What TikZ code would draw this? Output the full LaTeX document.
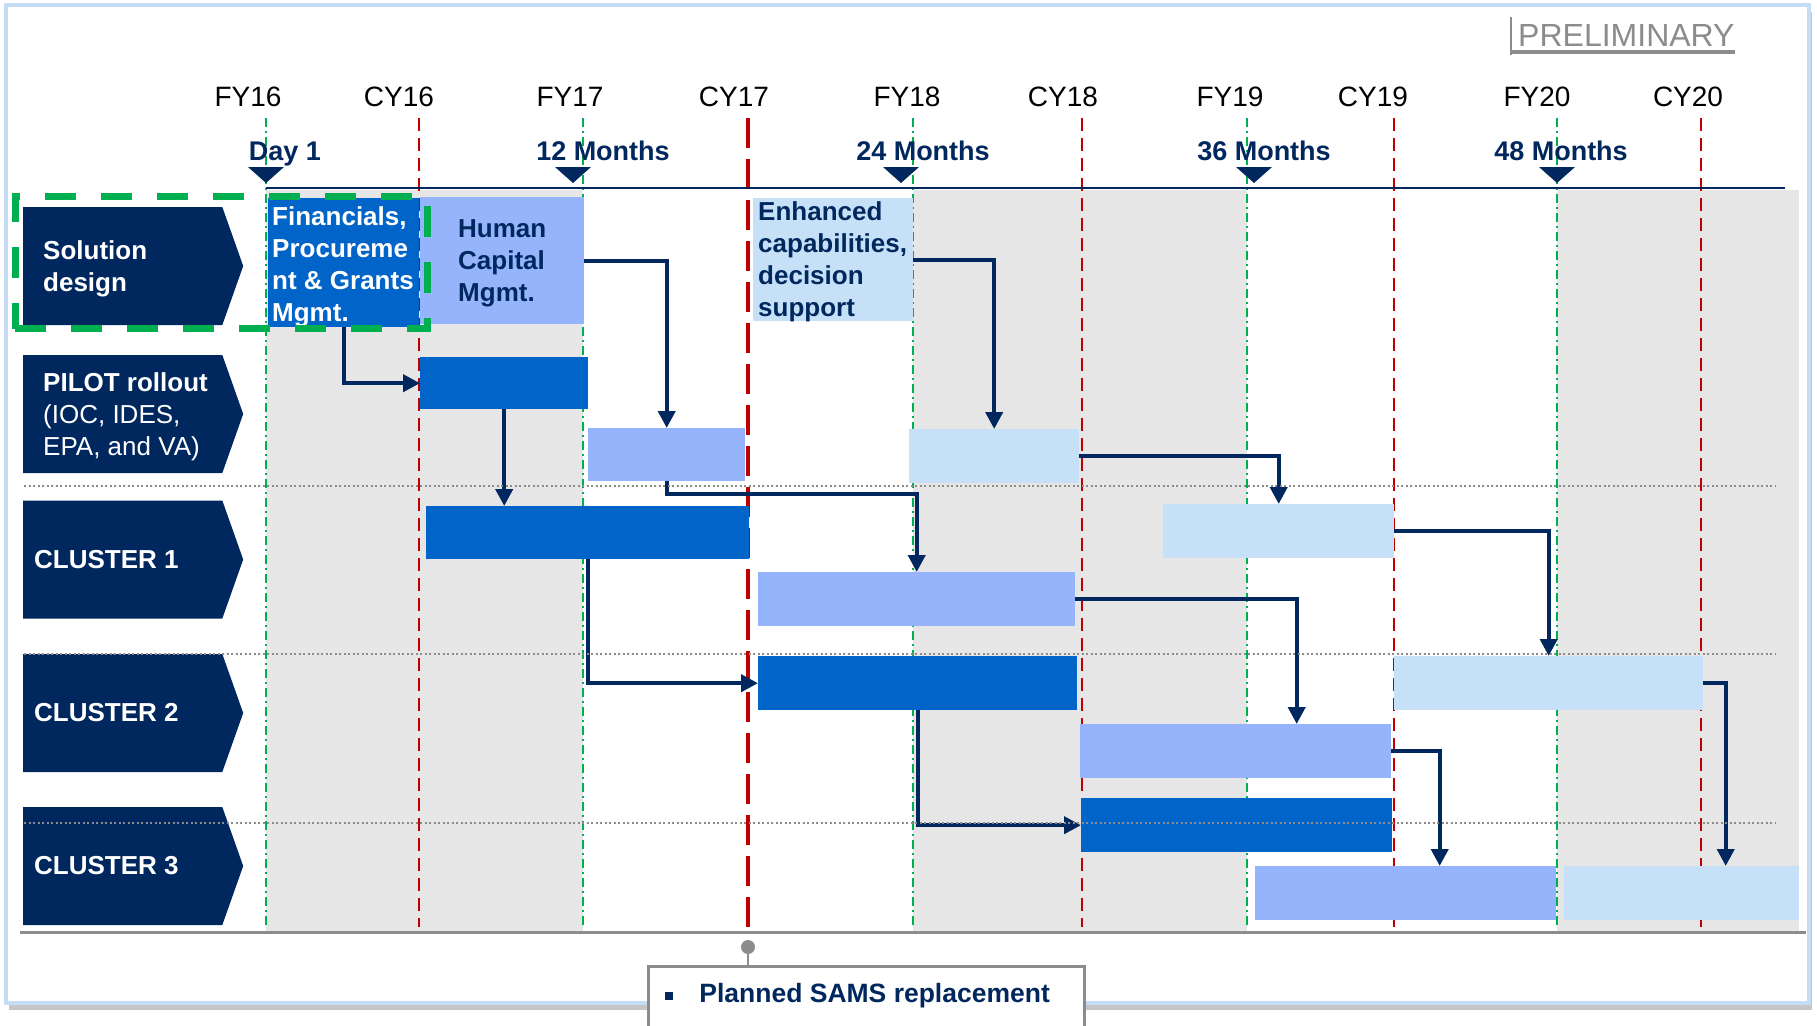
\documentclass[tikz,border=0pt]{standalone}
\usepackage{fontspec}
\setmainfont{Liberation Sans}
\usetikzlibrary{positioning, fit, arrows.meta, shapes.symbols, shadows}

\definecolor{navy}{HTML}{00285E}
\definecolor{finblue}{HTML}{0064C8}
\definecolor{hcmblue}{HTML}{96B4FC}
\definecolor{enhblue}{HTML}{C6E0F7}
\definecolor{yeargray}{HTML}{E6E6E6}
\definecolor{fygreen}{HTML}{00B050}
\definecolor{cyred}{HTML}{C00000}
\definecolor{frameblue}{HTML}{C5DDF4}
\definecolor{rulegray}{HTML}{8C8C8C}

\begin{document}
\begin{tikzpicture}[x=1pt, y=-1pt,
    plaintxt/.style={font=\fontsize{26}{32}\selectfont, inner sep=0pt},
    boldtxt/.style={font=\fontsize{26}{32}\selectfont\bfseries, inner sep=0pt},
    year/.style={font=\fontsize{28}{32}\selectfont, anchor=base, inner sep=0pt},
    mile/.style={font=\fontsize{27}{32}\selectfont\bfseries, text=navy, anchor=base, inner sep=0pt},
    chev/.style={shape=signal, signal to=east, signal pointer angle=141, fill=navy,
      minimum width=220, minimum height=118, inner sep=0pt, anchor=west},
    bar/.style={anchor=north west, inner sep=0pt, minimum height=54},
    link/.style={navy, line width=4pt, -{Triangle[length=17pt, width=17pt]}},
    fyline/.style={fygreen, line width=2pt, dash pattern=on 9pt off 4pt on 2pt off 4pt},
    cyline/.style={cyred, line width=2.5pt, dash pattern=on 13pt off 7pt},
    cymain/.style={cyred, line width=4pt, dash pattern=on 30pt off 11pt},
    rowsep/.style={rulegray, line width=2pt, dash pattern=on 2pt off 2.5pt}]
  \useasboundingbox (0,0) rectangle (1817,1025);

  % page frame
  \draw[frameblue, line width=3.5pt, fill=white,
    drop shadow={shadow xshift=3pt, shadow yshift=-7pt, opacity=0.45}]
    (6,5) rectangle (1809,1003);

  % stamp in the corner
  \node[font=\fontsize{32}{36}\selectfont, text=rulegray, anchor=base west, inner sep=0pt]
    (prelim) at (1518,47) {PRELIMINARY};
  \draw[rulegray, line width=4pt] ([xshift=-7pt, yshift=-5pt]prelim.base west) -- ([yshift=-5pt]prelim.base east);
  \draw[rulegray, line width=2pt] ([xshift=-7pt, yshift=-8pt]prelim.base west) -- ([xshift=-7pt, yshift=30pt]prelim.base west);

  % shaded fiscal years
  \foreach \a/\b in {266/583, 913/1247, 1557/1799}
    \fill[yeargray] (\a,190) rectangle (\b,933);

  % FY and CY boundaries
  \foreach \x/\lx/\lab/\sty in {266/248/FY16/fyline, 419/399/CY16/cyline, 583/570/FY17/fyline,
      748/734/CY17/cymain, 913/907/FY18/fyline, 1082/1063/CY18/cyline, 1247/1230/FY19/fyline,
      1394/1373/CY19/cyline, 1557/1537/FY20/fyline, 1701/1688/CY20/cyline} {
    \draw[\sty] (\x,118) -- (\x,927);
    \node[year] (\lab) at (\lx,106) {\lab};
  }

  % milestones
  \draw[navy, line width=2.5pt] (266,188) -- (1785,188);
  \foreach \tx/\lx/\m/\lab in {266/285/0/Day 1, 573/603/12/12 Months, 901/923/24/24 Months,
      1254/1264/36/36 Months, 1557/1561/48/48 Months} {
    \fill[navy] (\tx-18,167) -- (\tx+18,167) -- (\tx,183) -- cycle;
    \node[mile] (m\m) at (\lx,160) {\lab};
  }

  % work streams on the left
  \node[chev] (solution) at (23,266) {};
  \node[chev] (pilot) at (23,414) {};
  \node[chev] (cluster1) at (23,559.5) {};
  \node[chev] (cluster2) at (23,713) {};
  \node[chev] (cluster3) at (23,866) {};
  \node[boldtxt, text=white, align=left, anchor=west] (solutiontext) at (43,269) {Solution\\design};
  \node[plaintxt, text=white, align=left, anchor=west] (pilottext) at (43,417) {{\bfseries PILOT rollout}\\(IOC, IDES,\\EPA, and VA)};
  \node[boldtxt, text=white, anchor=west] (cluster1text) at (34,560) {CLUSTER 1};
  \node[boldtxt, text=white, anchor=west] (cluster2text) at (34,713) {CLUSTER 2};
  \node[boldtxt, text=white, anchor=west] (cluster3text) at (34,866) {CLUSTER 3};

  % releases: fin = financials, hcm = human capital, enh = enhanced capabilities
  \node[bar, fill=finblue, minimum width=151, minimum height=129] (fin0) at (268,198) {};
  \node[bar, fill=hcmblue, minimum width=164, minimum height=127] (hcm0) at (420,197) {};
  \node[bar, fill=enhblue, minimum width=160, minimum height=123] (enh0) at (753,198) {};
  \node[bar, fill=finblue, minimum width=168, minimum height=52] (fin1) at (420,357) {};
  \node[bar, fill=hcmblue, minimum width=157, minimum height=53] (hcm1) at (588,428) {};
  \node[bar, fill=enhblue, minimum width=170] (enh1) at (909,429) {};
  \node[bar, fill=finblue, minimum width=323, minimum height=53] (fin2) at (426,506) {};
  \node[bar, fill=hcmblue, minimum width=317] (hcm2) at (758,572) {};
  \node[bar, fill=enhblue, minimum width=231] (enh2) at (1163,504) {};
  \node[bar, fill=finblue, minimum width=319] (fin3) at (758,656) {};
  \node[bar, fill=hcmblue, minimum width=311] (hcm3) at (1080,724) {};
  \node[bar, fill=enhblue, minimum width=309] (enh3) at (1394,656) {};
  \node[bar, fill=finblue, minimum width=311] (fin4) at (1081,798) {};
  \node[bar, fill=hcmblue, minimum width=301] (hcm4) at (1255,866) {};
  \node[bar, fill=enhblue, minimum width=235] (enh4) at (1564,866) {};

  \node[boldtxt, text=white, align=left, anchor=west] (fintext) at ([xshift=4pt, yshift=-4pt]fin0.west) {Financials,\\Procureme\\nt \& Grants\\Mgmt.};
  \node[boldtxt, text=navy, align=left, anchor=west] (hcmtext) at ([xshift=38pt, yshift=-3pt]hcm0.west) {Human\\Capital\\Mgmt.};
  \node[boldtxt, text=navy, align=left, anchor=west] (enhtext) at ([xshift=5pt, yshift=-2pt]enh0.west) {Enhanced\\capabilities,\\decision\\support};

  % hand-offs between releases
  \draw[link] (fin0.south) |- (fin1.west);
  \draw[link] (hcm0.east) -| (hcm1.north);
  \draw[link] (enh0.east) -| (enh1.north);
  \draw[link] (fin1.south) -- (fin1.south |- fin2.north);
  \draw[link] (hcm1.south) -- ++(0,13) -| (hcm2.north);
  \draw[link] (enh1.east) -| (enh2.north);
  \draw[link] (fin2.south) |- (fin3.west);
  \draw[link] (hcm2.east) -| ([xshift=61pt]hcm3.north);
  \draw[link] (enh2.east) -| (enh3.north);
  \draw[link] (fin3.south) |- (fin4.west);
  \draw[link] (hcm3.east) -| ([xshift=34pt]hcm4.north);
  \draw[link] (enh3.east) -| ([xshift=44pt]enh4.north);

  % row separators
  \foreach \y in {486, 654, 823}
    \draw[rowsep] (24,\y) -- (1776,\y);
  \draw[rulegray, line width=3pt] (20,932) -- (1806,932);

  % first release in focus
  \node[draw=fygreen, line width=7pt, dash pattern=on 31pt off 25pt, fit=(solution)(fin0),
    inner xsep=8pt, inner ysep=1.5pt] (focus) {};

  % SAMS note under CY17
  \node[circle, fill=rulegray, minimum size=14, inner sep=0pt] (pin) at (748,947) {};
  \node[draw=rulegray, line width=3pt, fill=white, anchor=north west, minimum width=436,
    minimum height=90, inner sep=0pt] (sams) at (647,965) {};
  \draw[rulegray, line width=2pt] (pin) -- (pin |- sams.north);
  \node[fill=navy, minimum size=8, inner sep=0pt] (bullet) at (669,996) {};
  \node[font=\fontsize{26.5}{32}\selectfont\bfseries, text=navy, inner sep=0pt, right=26pt of bullet]
    (samstext) {Planned SAMS replacement};
\end{tikzpicture}
\end{document}
